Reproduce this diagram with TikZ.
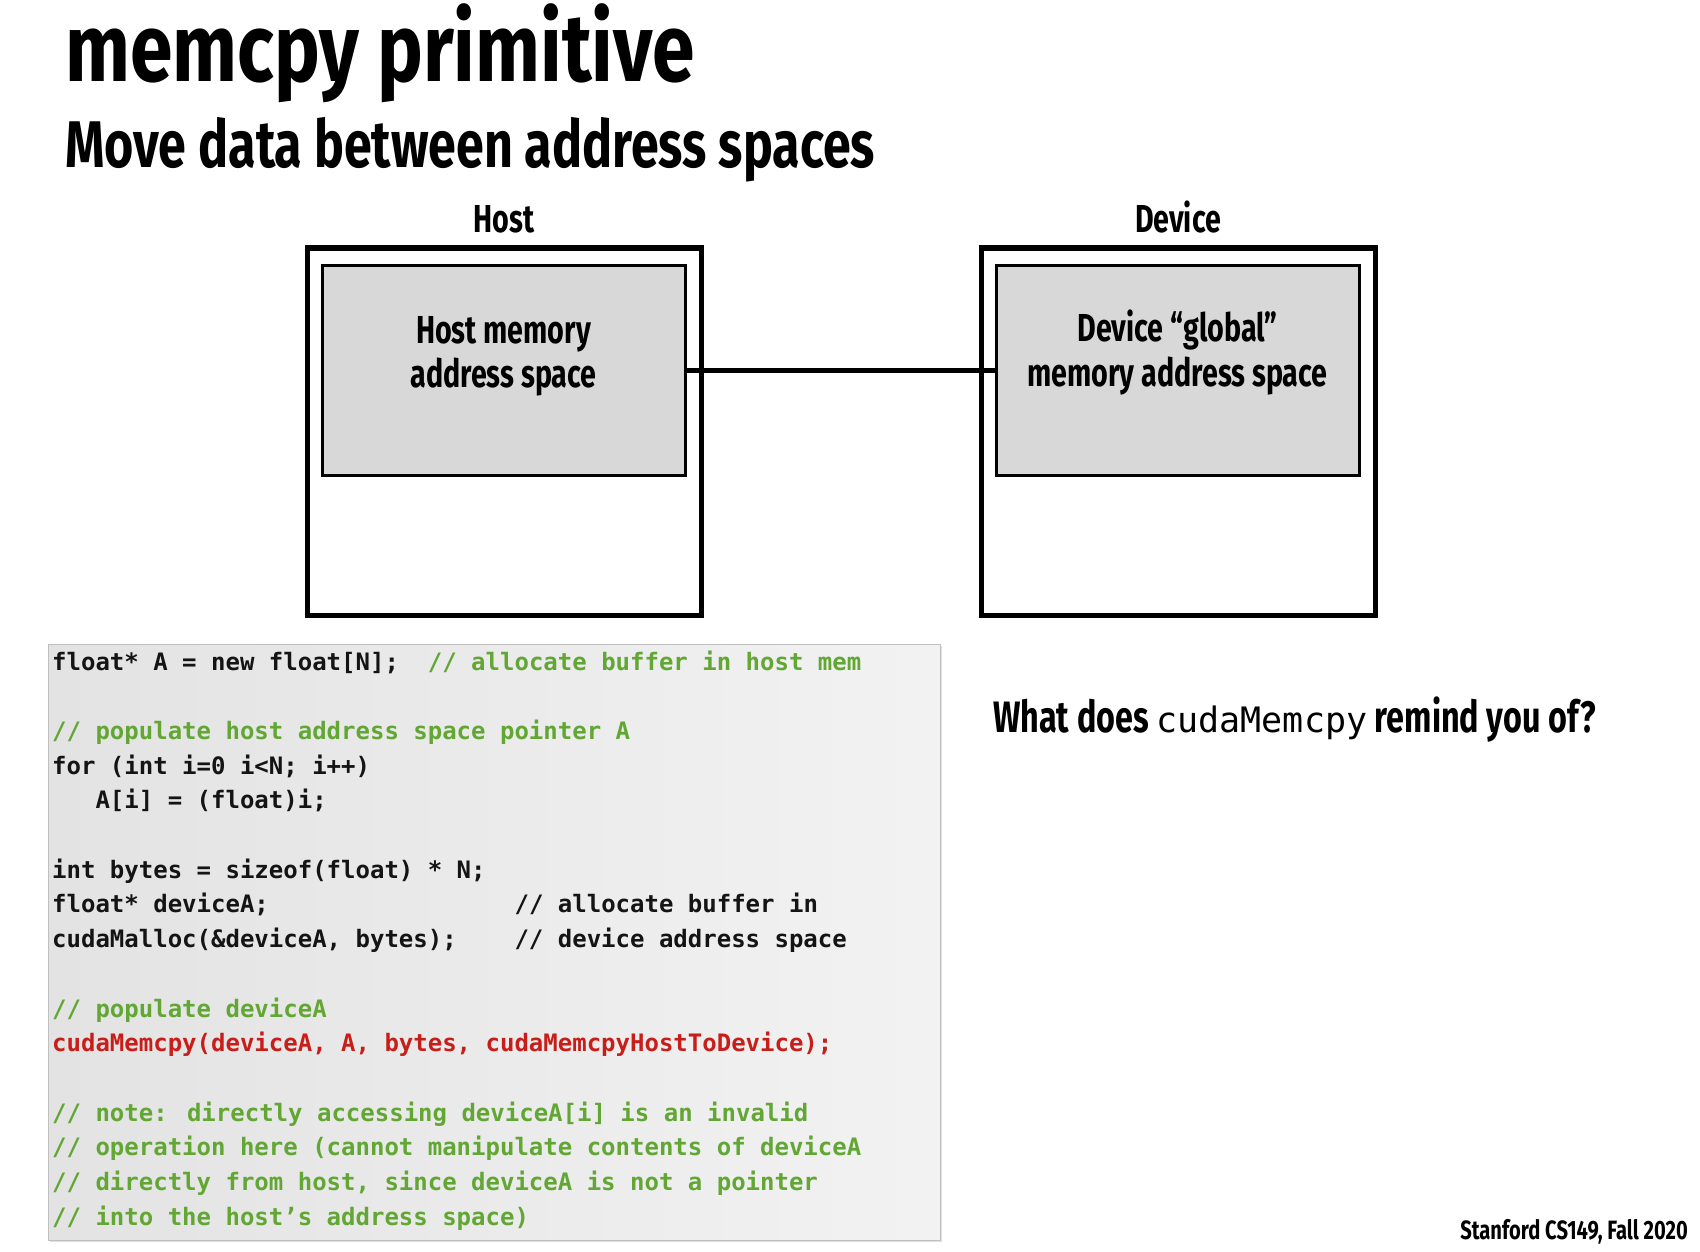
\documentclass[tikz,border=0pt]{standalone}
\usepackage{fontspec}
\usetikzlibrary{shadows}
\setmainfont{Fira Sans}[FakeStretch=0.8]
\newfontfamily\subfont{Fira Sans}[FakeStretch=0.76]
\newfontfamily\lblfont{Fira Sans}[FakeStretch=0.735]
\newfontfamily\codefont{DejaVu Sans Mono}
\newfontfamily\inlinecode{DejaVu Sans Mono}
\definecolor{cmtgreen}{RGB}{98,166,52}
\definecolor{callred}{RGB}{200,30,25}
\definecolor{memgray}{RGB}{216,216,216}
\definecolor{codeink}{RGB}{20,20,20}
\tikzset{
  outerbox/.style={draw=black, line width=5pt, minimum width=394pt, minimum height=367pt, inner sep=0pt},
  membox/.style={draw=black, line width=3pt, fill=memgray, minimum width=363pt, minimum height=210pt, inner sep=0pt},
  wire/.style={line width=5pt},
  lbl/.style={font=\fontsize{39}{39}\selectfont\lblfont\bfseries, inner sep=0pt, anchor=base},
  codeline/.style={font=\fontsize{24}{24}\selectfont\codefont\bfseries, text=codeink, inner sep=0pt, anchor=base west},
}
\newcommand{\cmt}[1]{\textcolor{cmtgreen}{#1}}
\begin{document}
\begin{tikzpicture}[x=1pt,y=-1pt]
\useasboundingbox (0,0) rectangle (1700,1252);

% headings
\node[inner sep=0pt, anchor=base west, font=\fontsize{96}{96}\selectfont\bfseries] (title) at (65,82) {memcpy primitive};
\node[inner sep=0pt, anchor=base west, font=\fontsize{66}{66}\selectfont\subfont\bfseries] (subtitle) at (65,168) {Move data between address spaces};

% host and device
\node[lbl] (hostlbl) at (504,233) {Host};
\node[lbl] (devlbl) at (1178,233) {Device};
\node[outerbox] (hostbox) at (504,431.5) {};
\node[outerbox] (devbox) at (1178,431.5) {};
\node[membox] (hostmem) at (503.5,370) {};
\node[membox] (devmem) at (1177.5,370) {};
\draw[wire] (hostmem.east) -- (devmem.west);
\node[lbl] (hostmemA) at (503.5,343) {Host memory};
\node[lbl] (hostmemB) at (503.5,387) {address space};
\node[lbl] (devmemA) at (1177.5,341) {Device “global”};
\node[lbl] (devmemB) at (1177.5,386) {memory address space};

% code listing
\node[draw=black!25, line width=1pt, left color=black!11, right color=black!5,
      drop shadow={shadow xshift=2pt, shadow yshift=-2pt, opacity=0.25},
      minimum width=892pt, minimum height=596pt, inner sep=0pt] (codebox) at (494,942) {};
\node[codeline] (c0) at (52,670) {float* A = new float[N];\ \ \cmt{// allocate buffer in host mem}};
\node[codeline] (c1) at (52,739.4) {\cmt{// populate host address space pointer A}};
\node[codeline] (c2) at (52,774.1) {for (int i=0 i<N; i++)};
\node[codeline] (c3) at (52,808.8) {\ \ \ A[i] = (float)i;};
\node[codeline] (c4) at (52,878.2) {int bytes = sizeof(float) * N;};
\node[codeline] (c5) at (52,912.9) {float* deviceA;\ \ \ \ \ \ \ \ \ \ \ \ \ \ \ \ \ // allocate buffer in};
\node[codeline] (c6) at (52,947.6) {cudaMalloc(\&deviceA, bytes);\ \ \ \ // device address space};
\node[codeline] (c7) at (52,1017) {\cmt{// populate deviceA}};
\node[codeline, text=callred] (c8) at (52,1051.7) {cudaMemcpy(deviceA, A, bytes, cudaMemcpyHostToDevice);};
\node[codeline] (c9) at (52,1121.1) {\cmt{// note: directly accessing deviceA[i] is an invalid}};
\node[codeline] (c10) at (52,1155.8) {\cmt{// operation here (cannot manipulate contents of deviceA}};
\node[codeline] (c11) at (52,1190.5) {\cmt{// directly from host, since deviceA is not a pointer}};
\node[codeline] (c12) at (52,1225.2) {\cmt{// into the host’s address space)}};

% question and footer
\node[inner sep=0pt, anchor=base west, font=\fontsize{44}{44}\selectfont\lblfont\bfseries] (question) at (993,732)
  {What does {\mdseries\inlinecode\fontsize{35}{35}\selectfont cudaMemcpy} remind you of?};
\node[inner sep=0pt, anchor=base east, font=\fontsize{26.5}{26.5}\selectfont\subfont\bfseries] (footer) at (1688,1239) {Stanford CS149, Fall 2020};
\end{tikzpicture}
\end{document}
